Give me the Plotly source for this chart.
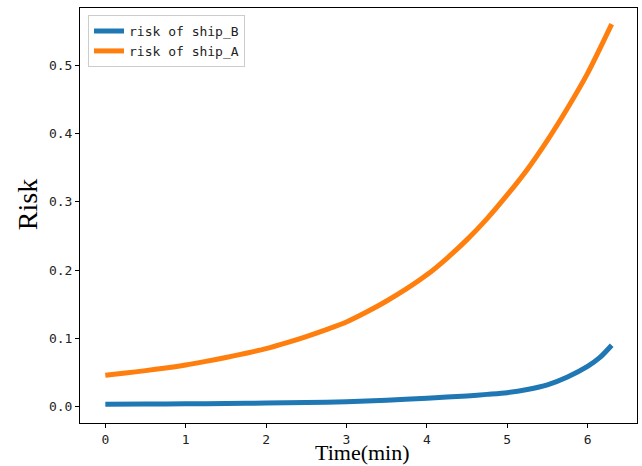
import plotly.graph_objects as go

time_b = [0, 0.5, 1, 1.5, 2, 2.5, 3, 3.5, 4, 4.25, 4.5, 4.75, 5, 5.25, 5.5, 5.75, 6, 6.15, 6.3]
risk_b = [0.0035, 0.0038, 0.0042, 0.0047, 0.0053, 0.0060, 0.0072, 0.0095, 0.0125, 0.0140, 0.0158,
          0.0180, 0.0205, 0.0252, 0.0320, 0.0435, 0.0590, 0.0717, 0.0900]

time_a = [0, 0.25, 0.5, 0.75, 1, 1.25, 1.5, 1.75, 2, 2.25, 2.5, 2.75, 3, 3.25, 3.5, 3.75, 4,
          4.25, 4.5, 4.75, 5, 5.25, 5.5, 5.75, 6, 6.3]
risk_a = [0.0460, 0.0492, 0.0528, 0.0566, 0.0610, 0.0663, 0.0720, 0.0782, 0.0850, 0.0934, 0.1027,
          0.1129, 0.1240, 0.1385, 0.1547, 0.1727, 0.1930, 0.2173, 0.2446, 0.2754, 0.3100, 0.3474,
          0.3900, 0.4370, 0.4880, 0.5600]

x_ticks = [0, 1, 2, 3, 4, 5, 6]
y_ticks = [0.0, 0.1, 0.2, 0.3, 0.4, 0.5]
y_tick_labels = ["0.0", "0.1", "0.2", "0.3", "0.4", "0.5"]

fig = go.Figure()
fig.add_trace(go.Scatter(x=time_b, y=risk_b, mode="lines", name="risk of ship_B",
                         line=dict(color="#1f77b4", width=5, shape="spline", smoothing=0.8)))
fig.add_trace(go.Scatter(x=time_a, y=risk_a, mode="lines", name="risk of ship_A",
                         line=dict(color="#ff7f0e", width=5, shape="spline", smoothing=0.8)))

axis_common = dict(showline=True, linecolor="black", linewidth=1, mirror=True,
                   ticks="outside", ticklen=4, tickcolor="black", tickwidth=1,
                   showgrid=False, zeroline=False,
                   tickfont=dict(family="DejaVu Sans Mono", size=13, color="#222"))

fig.update_layout(
    width=642, height=466,
    margin=dict(l=80, r=5, t=8, b=43),
    paper_bgcolor="white", plot_bgcolor="white",
    showlegend=True,
    legend=dict(x=0.0144, y=0.983, xanchor="left", yanchor="top",
                bgcolor="white", bordercolor="#cccccc", borderwidth=1,
                font=dict(family="DejaVu Sans Mono", size=13, color="#222"),
                tracegroupgap=0),
    xaxis=dict(range=[-0.315, 6.615], tickvals=x_ticks, **axis_common),
    yaxis=dict(range=[-0.0239, 0.5837], tickvals=y_ticks, ticktext=y_tick_labels, **axis_common),
    annotations=[
        dict(text="Risk", xref="paper", yref="paper", x=-0.095, y=0.525,
             xanchor="center", yanchor="middle", textangle=-90, showarrow=False,
             font=dict(family="Liberation Serif", size=28, color="black")),
        dict(text="Time(min)", xref="paper", yref="paper", x=0.508, y=-0.07,
             xanchor="center", yanchor="middle", showarrow=False,
             font=dict(family="Liberation Serif", size=22, color="black")),
    ],
)

fig.write_html("out.html")
